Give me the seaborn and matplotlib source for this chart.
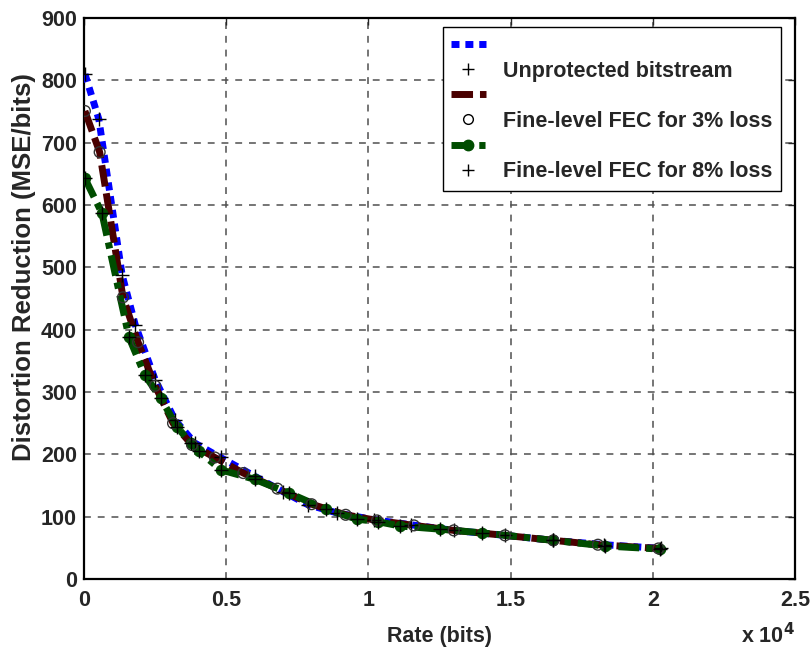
import matplotlib
matplotlib.use("Agg")
import matplotlib.pyplot as plt
import seaborn as sns
from matplotlib.lines import Line2D
from matplotlib.ticker import FuncFormatter

# Data (rate in bits, distortion reduction in MSE/bits)
unprot_x = [35, 520, 1340, 1800, 2500, 3200, 3900, 4800, 6000, 7000, 7880, 8900, 10200, 11500, 13000, 14800, 16500, 18300, 20300]
unprot_y = [810, 738, 488, 408, 320, 255, 218, 195, 165, 140, 119, 106, 95, 87, 78, 70, 62, 55, 49]

fec3_x = [30, 550, 1370, 1900, 2500, 3130, 3800, 4600, 5600, 6800, 8000, 9200, 10300, 11600, 13000, 14800, 16500, 18070, 20200]
fec3_y = [751, 685, 452, 380, 310, 250, 215, 195, 170, 145, 120, 103, 94, 86, 78, 70, 62, 55, 49]

fec8_x = [30, 630, 1580, 2140, 2700, 3270, 3760, 4040, 4820, 6000, 7200, 8500, 9600, 10340, 11110, 12500, 14000, 16500, 18320, 20250]
fec8_y = [643, 587, 388, 327, 290, 244, 218, 205, 175, 160, 138, 112, 96, 92, 85, 80, 74, 62, 53, 48]

labels = ["Unprotected bitstream", "Fine-level FEC for 3% loss", "Fine-level FEC for 8% loss"]
xticks = [0, 5000, 10000, 15000, 20000, 25000]
yticks = [0, 100, 200, 300, 400, 500, 600, 700, 800, 900]

sns.set_style("white")
plt.rcParams['font.family'] = ['Liberation Sans', 'DejaVu Sans']
plt.rcParams['font.weight'] = 'bold'
plt.rcParams['mathtext.default'] = 'bf'

BLUE = '#0000ff'
RED = '#4a0000'
GREEN = '#004d00'
FS = 15.5

LW = 5.0
BLUE_D = (1.15, 0.85)
RED_D = (3.1, 1.0)
GREEN_D = (3.0, 1.0, 0.9, 1.0)

fig = plt.figure(figsize=(8.11, 6.48), dpi=100)
ax = fig.add_axes([0.1036, 0.1065, 0.8767, 0.8655])

sns.lineplot(x=unprot_x, y=unprot_y, ax=ax, sort=False, color=BLUE, linewidth=LW, zorder=3)
ax.lines[-1].set_dashes(BLUE_D)
ax.lines[-1].set_dash_capstyle('butt')
sns.lineplot(x=fec3_x, y=fec3_y, ax=ax, sort=False, color=RED, linewidth=LW, zorder=4)
ax.lines[-1].set_dashes(RED_D)
ax.lines[-1].set_dash_capstyle('butt')
sns.lineplot(x=fec8_x, y=fec8_y, ax=ax, sort=False, color=GREEN, linewidth=LW, zorder=5,
             marker='o', markersize=7.5, markeredgecolor=GREEN, markerfacecolor=GREEN)
ax.lines[-1].set_dashes(GREEN_D)
ax.lines[-1].set_dash_capstyle('butt')

sns.scatterplot(x=unprot_x, y=unprot_y, ax=ax, marker='+', color='k', s=100, linewidth=1.0, zorder=6)
sns.scatterplot(x=fec3_x, y=fec3_y, ax=ax, marker='o', facecolor='none', edgecolor='#333333', s=60, linewidth=1.0, zorder=6)
sns.scatterplot(x=fec8_x, y=fec8_y, ax=ax, marker='+', color='k', s=100, linewidth=1.0, zorder=7)

ax.set_xlim(0, 25000)
ax.set_ylim(0, 900)
ax.set_xticks(xticks)
ax.set_yticks(yticks)
ax.xaxis.set_major_formatter(FuncFormatter(lambda v, p: ('%g' % (v / 1e4))))
ax.tick_params(direction='in', length=5, width=1, labelsize=FS, top=True, right=True)
ax.tick_params(axis='x', pad=8)
ax.tick_params(axis='y', pad=5)
for t in ax.get_xticklabels() + ax.get_yticklabels():
    t.set_fontweight('bold')

ax.grid(True, color='#505050', linestyle=(0, (4.5, 4.5)), linewidth=1.1)
ax.set_axisbelow(True)
for s in ax.spines.values():
    s.set_color('black')
    s.set_linewidth(1.6)

ax.set_xlabel("Rate (bits)", fontsize=FS, fontweight='bold', labelpad=11)
ax.set_ylabel("Distortion Reduction (MSE/bits)", fontsize=18.5, fontweight='bold')
ax.yaxis.set_label_coords(-0.068, 0.556)
fig.text(0.914, 0.008, r"x 10$^{4}$", fontsize=FS, fontweight='bold', ha='left', va='baseline')

h1 = Line2D([], [], color=BLUE, linewidth=LW, dashes=BLUE_D, dash_capstyle='butt')
h2 = Line2D([], [], color='k', marker='+', linestyle='none', markersize=9, markeredgewidth=1.0)
h3 = Line2D([], [], color=RED, linewidth=LW, dashes=RED_D, dash_capstyle='butt')
h4 = Line2D([], [], color='k', marker='o', markerfacecolor='none', linestyle='none', markersize=7, markeredgewidth=1.0)
h5 = Line2D([], [], color=GREEN, linewidth=LW, dashes=GREEN_D, dash_capstyle='butt', marker='o',
            markersize=7.5, markerfacecolor=GREEN, markeredgecolor=GREEN)
h6 = Line2D([], [], color='k', marker='+', linestyle='none', markersize=9, markeredgewidth=1.0)
leg = ax.legend([h1, h2, h3, h4, h5, h6], [" ", labels[0], " ", labels[1], " ", labels[2]],
                loc='upper right', bbox_to_anchor=(0.980, 0.984), borderaxespad=0,
                prop={'weight': 'bold', 'size': FS}, frameon=True, fancybox=False,
                edgecolor='black', framealpha=1, handlelength=1.6, labelspacing=0.19,
                borderpad=0.4, handletextpad=0.8, markerfirst=True)
leg.get_frame().set_linewidth(1.0)

fig.savefig("out.png", dpi=100)
